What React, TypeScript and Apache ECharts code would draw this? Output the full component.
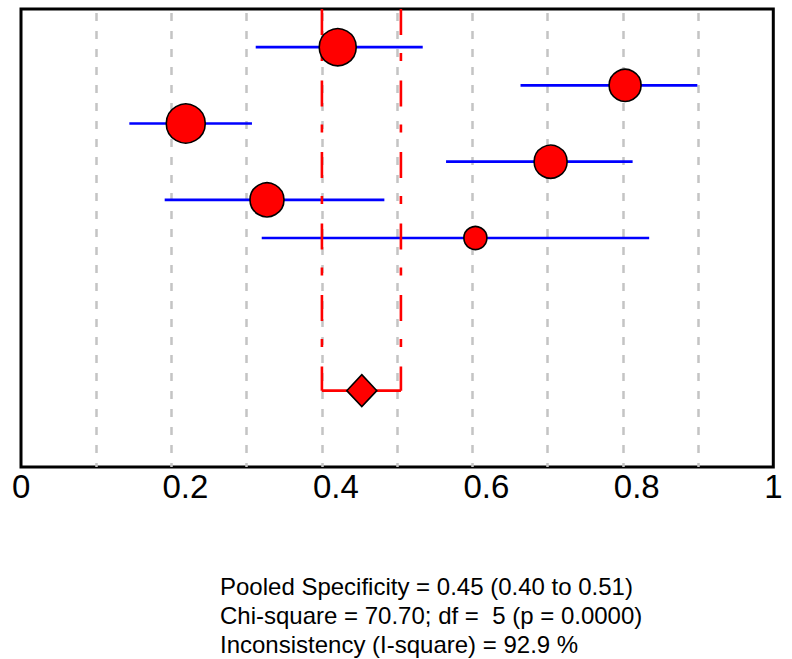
import React, { useEffect, useRef } from "react";
import * as echarts from "echarts";

// ---- data ----
const studyRows = [1, 2, 3, 4, 5, 6];
const studyEstimate = [0.421, 0.803, 0.219, 0.704, 0.327, 0.604];
const studyLower = [0.312, 0.664, 0.144, 0.565, 0.191, 0.32];
const studyUpper = [0.534, 0.899, 0.307, 0.813, 0.483, 0.835];
const studyWeightSize = [37, 32, 39, 33, 34, 23];

const pooledRow = 10;
const pooledEstimate = 0.453;
const pooledLower = 0.4;
const pooledUpper = 0.505;

const xTickLabels = ["0", "0.2", "0.4", "0.6", "0.8", "1"];
const statLines = [
  "Pooled Specificity = 0.45 (0.40 to 0.51)",
  "Chi-square = 70.70; df =  5 (p = 0.0000)",
  "Inconsistency (I-square) = 92.9 %",
];

const FONT = '"Liberation Sans", Arial, sans-serif';

export default function App() {
  const ref = useRef<HTMLDivElement>(null);

  useEffect(() => {
    if (!ref.current) return;
    const chart = echarts.init(ref.current, null, { renderer: "svg" });

    const ciData = studyRows.map((r, i) => [studyLower[i], studyUpper[i], r]);
    const pointData = studyRows.map((r, i) => [studyEstimate[i], r, studyWeightSize[i]]);

    const option: any = {
      animation: false,
      backgroundColor: "#ffffff",
      grid: {
        left: 21,
        right: 18.7,
        top: 9,
        bottom: 192,
        show: true,
        borderColor: "#000000",
        borderWidth: 3,
        backgroundColor: "transparent",
      },
      xAxis: {
        type: "value",
        min: 0,
        max: 1,
        interval: 0.1,
        axisLine: { show: false },
        axisTick: { show: false },
        splitLine: {
          show: true,
          showMinLine: false,
          showMaxLine: false,
          lineStyle: { color: "#c4c4c4", width: 2.5, type: [8, 10], dashOffset: -4 },
        },
        axisLabel: {
          interval: 0,
          showMinLabel: true,
          showMaxLabel: true,
          margin: 3,
          align: "left",
          padding: [0, 0, 0, -9],
          color: "#000000",
          fontFamily: FONT,
          fontSize: 33,
          formatter: (v: number) => {
            const k = Math.round(v * 10);
            return k % 2 === 0 ? xTickLabels[k / 2] : "";
          },
        },
      },
      yAxis: {
        type: "value",
        min: 0,
        max: 12,
        inverse: true,
        show: false,
        splitLine: { show: false },
      },
      graphic: statLines.map((t, i) => ({
        type: "text",
        x: 220,
        y: 586 + i * 29,
        style: {
          text: t,
          font: `24px ${FONT}`,
          fill: "#000000",
          verticalAlign: "middle",
          align: "left",
        },
      })),
      series: [
        {
          type: "custom",
          name: "ci",
          data: ciData,
          encode: { x: [0, 1], y: 2 },
          renderItem: (params: any, api: any) => {
            const p1 = api.coord([api.value(0), api.value(2)]);
            const p2 = api.coord([api.value(1), api.value(2)]);
            return {
              type: "line",
              shape: { x1: p1[0], y1: p1[1], x2: p2[0], y2: p2[1] },
              style: { stroke: "#0000ff", lineWidth: 2.6 },
            };
          },
          z: 2,
        },
        {
          type: "custom",
          name: "pooled-ci",
          data: [[pooledLower, pooledUpper, pooledRow]],
          encode: { x: [0, 1], y: 2 },
          renderItem: (params: any, api: any) => {
            const lo = api.value(0);
            const hi = api.value(1);
            const row = api.value(2);
            const tl = api.coord([lo, 0]);
            const bl = api.coord([lo, row]);
            const tr = api.coord([hi, 0]);
            const br = api.coord([hi, row]);
            const dashStyle = {
              stroke: "#ff0000",
              lineWidth: 2.6,
              lineDash: [26, 18, 8, 19.5],
            };
            return {
              type: "group",
              children: [
                {
                  type: "line",
                  shape: { x1: tl[0], y1: tl[1], x2: bl[0], y2: bl[1] },
                  style: dashStyle,
                },
                {
                  type: "line",
                  shape: { x1: tr[0], y1: tr[1], x2: br[0], y2: br[1] },
                  style: dashStyle,
                },
                {
                  type: "line",
                  shape: { x1: bl[0], y1: bl[1], x2: br[0], y2: br[1] },
                  style: { stroke: "#ff0000", lineWidth: 2.6 },
                },
              ],
            };
          },
          z: 3,
        },
        {
          type: "scatter",
          name: "studies",
          data: pointData,
          symbol: "circle",
          symbolSize: (val: number[]) => val[2],
          itemStyle: { color: "#ff0000", borderColor: "#000000", borderWidth: 1.6, opacity: 1 },
          z: 4,
        },
        {
          type: "scatter",
          name: "pooled",
          data: [[pooledEstimate, pooledRow]],
          symbol: "diamond",
          symbolSize: [30, 32],
          itemStyle: { color: "#ff0000", borderColor: "#000000", borderWidth: 1.6, opacity: 1 },
          z: 5,
        },
      ],
    };

    chart.setOption(option);
    return () => chart.dispose();
  }, []);

  return (
    <div
      ref={ref}
      style={{ position: "fixed", left: 0, top: 0, width: 792, height: 659, background: "#fff" }}
    />
  );
}
